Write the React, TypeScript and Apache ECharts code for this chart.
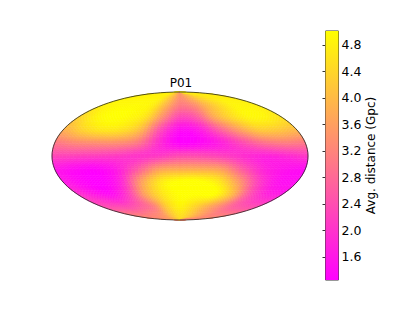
import React, { useEffect, useRef } from "react";
import * as echarts from "echarts";

// Sky map readings (Gpc). Rows go from north pole to south pole, columns from left to right.
const rowFractions = [1, 0.8, 0.6, 0.4, 0.2, 0, -0.2, -0.4, -0.6, -0.8, -1];
const lonFractions = [-1, -5 / 6, -4 / 6, -3 / 6, -2 / 6, -1 / 6, 0, 1 / 6, 2 / 6, 3 / 6, 4 / 6, 5 / 6, 1];
const row01 = [4.82, 4.82, 4.82, 4.82, 4.75, 4.26, 3.51, 4.07, 4.56, 4.71, 4.71, 4.71, 4.71];
const row02 = [4.82, 4.9, 4.93, 4.93, 4.75, 3.88, 3.13, 3.32, 3.96, 4.45, 4.82, 4.86, 4.82];
const row03 = [4.33, 4.82, 5.01, 4.93, 4.56, 3.32, 2.3, 2.57, 3.7, 4.4, 4.85, 4.85, 4.6];
const row04 = [3.81, 4.33, 4.63, 4.56, 3.96, 2.38, 1.44, 1.63, 2.57, 3.51, 4.18, 4.18, 3.96];
const row05 = [3.02, 3.25, 3.35, 3.35, 3.02, 1.95, 1.3, 1.4, 1.75, 2.35, 2.9, 3.1, 3.02];
const row06 = [2.3, 2.25, 2.2, 2.15, 2.05, 2.1, 2.35, 2.35, 2.2, 1.95, 1.8, 1.9, 2.1];
const row07 = [1.63, 1.44, 1.36, 1.7, 2.57, 3.51, 3.69, 3.69, 3.51, 2.57, 1.81, 1.55, 1.44];
const row08 = [1.63, 1.36, 1.25, 1.81, 3.51, 4.63, 5.01, 5.01, 4.63, 3.51, 2.19, 1.51, 1.44];
const row09 = [2.0, 1.63, 1.44, 2.19, 3.69, 4.63, 5.01, 5.01, 5.01, 4.07, 2.57, 1.81, 1.63];
const row10 = [2.38, 2.38, 2.38, 2.68, 3.13, 4.26, 4.82, 4.45, 3.88, 3.32, 2.75, 2.49, 2.38];
const row11 = [3.4, 3.4, 3.4, 3.5, 3.7, 4.1, 4.45, 4.26, 3.9, 3.6, 3.4, 3.4, 3.4];
const skyRows = [row01, row02, row03, row04, row05, row06, row07, row08, row09, row10, row11];

const colorbarTicks = [1.6, 2.0, 2.4, 2.8, 3.2, 3.6, 4.0, 4.4, 4.8];
const colorMin = 1.25;
const colorMax = 5.01;
const titleText = "P01";
const colorbarLabel = "Avg. distance (Gpc)";
const SUB = 6;

function spring(v: number) {
  const t = Math.max(0, Math.min(1, (v - colorMin) / (colorMax - colorMin)));
  return `rgb(255,${Math.round(255 * t)},${Math.round(255 * (1 - t))})`;
}

function catmull(a: number, b: number, c: number, d: number, t: number) {
  return 0.5 * (2 * b + (c - a) * t + (2 * a - 5 * b + 4 * c - d) * t * t + (3 * b - a - 3 * c + d) * t * t * t);
}

function sampleSky(r: number, c: number, u: number, v: number) {
  const cl = (n: number, m: number) => Math.max(0, Math.min(m, n));
  const vals: number[] = [];
  for (let i = -1; i <= 2; i++) {
    const row = skyRows[cl(r + i, skyRows.length - 1)];
    vals.push(catmull(row[cl(c - 1, 12)], row[c], row[cl(c + 1, 12)], row[cl(c + 2, 12)], u));
  }
  return catmull(vals[0], vals[1], vals[2], vals[3], v);
}

function project(lon: number, f: number) {
  return [lon * Math.sqrt(Math.max(0, 1 - f * f)), f];
}

const cellData: number[][] = [];
for (let r = 0; r < skyRows.length - 1; r++) {
  for (let c = 0; c < lonFractions.length - 1; c++) {
    cellData.push([lonFractions[c], rowFractions[r], skyRows[r][c], r, c]);
  }
}

export default function App() {
  const ref = useRef<HTMLDivElement>(null);
  useEffect(() => {
    const chart = echarts.init(ref.current!, undefined, { renderer: "svg" });
    chart.setOption({
      animation: false,
      backgroundColor: "#ffffff",
      textStyle: { fontFamily: "DejaVu Sans" },
      title: {
        text: titleText,
        left: 176,
        top: 72,
        textAlign: "center",
        textStyle: { fontFamily: "DejaVu Sans", fontSize: 12, fontWeight: "normal", color: "#000" },
      },
      grid: [
        { left: 52, top: 92, width: 256, height: 128, show: false },
        { left: 325.5, top: 31, width: 13, height: 249, show: true, borderColor: "#333", borderWidth: 1, backgroundColor: "transparent" },
      ],
      xAxis: [
        { gridIndex: 0, type: "value", min: -1, max: 1, show: false },
        { gridIndex: 1, type: "value", min: 0, max: 1, show: false },
      ],
      yAxis: [
        { gridIndex: 0, type: "value", min: -1, max: 1, show: false },
        {
          gridIndex: 1,
          type: "value",
          position: "right",
          min: colorMin,
          max: colorMax,
          splitLine: { show: false },
          axisLine: { show: false },
          axisTick: { show: true, inside: true, length: 3, customValues: colorbarTicks, lineStyle: { color: "#333", width: 1 } },
          axisLabel: {
            customValues: colorbarTicks,
            formatter: (v: number) => v.toFixed(1),
            margin: 3,
            fontSize: 12.5,
            color: "#000",
            fontFamily: "DejaVu Sans",
          },
          name: colorbarLabel,
          nameLocation: "middle",
          nameRotate: 90,
          nameGap: 22,
          nameTextStyle: { fontSize: 12, color: "#000", fontFamily: "DejaVu Sans" },
        },
      ],
      series: [
        {
          type: "custom",
          xAxisIndex: 0,
          yAxisIndex: 0,
          coordinateSystem: "cartesian2d",
          clip: false,
          silent: true,
          data: cellData,
          renderItem: (_p: any, api: any) => {
            const r = api.value(3);
            const c = api.value(4);
            const children: any[] = [];
            const f0 = rowFractions[r];
            const f1 = rowFractions[r + 1];
            const l0 = lonFractions[c];
            const l1 = lonFractions[c + 1];
            for (let i = 0; i < SUB; i++) {
              for (let j = 0; j < SUB; j++) {
                const u0 = j / SUB, u1 = (j + 1) / SUB, v0 = i / SUB, v1 = (i + 1) / SUB;
                const lonA = l0 + (l1 - l0) * u0, lonB = l0 + (l1 - l0) * u1;
                const fA = f0 + (f1 - f0) * v0, fB = f0 + (f1 - f0) * v1;
                const pts = [
                  api.coord(project(lonA, fA)),
                  api.coord(project(lonB, fA)),
                  api.coord(project(lonB, fB)),
                  api.coord(project(lonA, fB)),
                ];
                const col = spring(sampleSky(r, c, (u0 + u1) / 2, (v0 + v1) / 2));
                children.push({
                  type: "polygon",
                  shape: { points: pts },
                  style: { fill: col, stroke: col, lineWidth: 0.6 },
                });
              }
            }
            return { type: "group", children };
          },
        },
        {
          type: "custom",
          xAxisIndex: 1,
          yAxisIndex: 1,
          coordinateSystem: "cartesian2d",
          silent: true,
          z: 1,
          data: [[0, colorMin, colorMax]],
          renderItem: (_p: any, api: any) => {
            const a = api.coord([0, api.value(2)]);
            const b = api.coord([1, api.value(1)]);
            return {
              type: "rect",
              shape: { x: a[0], y: a[1], width: b[0] - a[0], height: b[1] - a[1] },
              style: {
                fill: new echarts.graphic.LinearGradient(0, 0, 0, 1, [
                  { offset: 0, color: spring(colorMax) },
                  { offset: 1, color: spring(colorMin) },
                ]),
              },
            };
          },
        },
      ],
      graphic: [
        {
          type: "ellipse",
          z: 100,
          silent: true,
          shape: { cx: 180, cy: 156, rx: 128, ry: 64 },
          style: { fill: "transparent", stroke: "#222", lineWidth: 0.8 },
        },
      ],
    });
    return () => chart.dispose();
  }, []);
  return <div ref={ref} style={{ position: "absolute", left: 0, top: 0, width: 415, height: 312 }} />;
}
